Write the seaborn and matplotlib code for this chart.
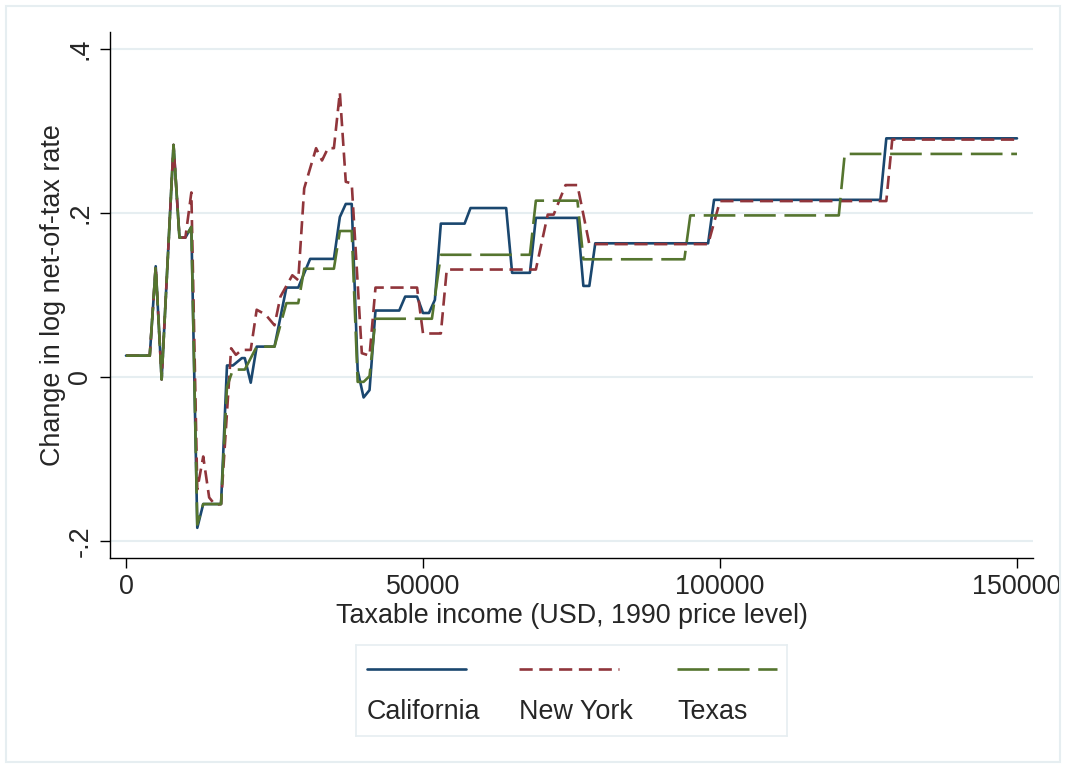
import pandas as pd
import matplotlib.pyplot as plt
import seaborn as sns
from matplotlib.lines import Line2D
from matplotlib.patches import Rectangle

# Data (taxable income in USD, change in log net-of-tax rate)
ca_income = [0, 4000, 5000, 6000, 8000, 9000, 10000, 11000, 12000, 13000, 16000,
             17000, 18000, 19500, 20000, 21000, 22000, 25000, 27000, 29000, 31000,
             35000, 36000, 37000, 38000, 39000, 40000, 41000, 42000, 46000, 47000,
             49000, 50000, 51000, 52000, 53000, 57000, 58000, 64000, 65000, 68000,
             69000, 76000, 77000, 78000, 79000, 98000, 99000, 127000, 128000, 150000]
ca_change = [0.026, 0.026, 0.135, -0.003, 0.283, 0.170, 0.170, 0.183, -0.184, -0.155, -0.155,
             0.014, 0.014, 0.023, 0.023, -0.007, 0.037, 0.037, 0.109, 0.109, 0.144,
             0.144, 0.195, 0.211, 0.211, 0.008, -0.025, -0.016, 0.081, 0.081, 0.098,
             0.098, 0.078, 0.078, 0.094, 0.187, 0.187, 0.206, 0.206, 0.127, 0.127,
             0.194, 0.194, 0.111, 0.111, 0.163, 0.163, 0.216, 0.216, 0.291, 0.291]

ny_income = [0, 4000, 5000, 6000, 8000, 9000, 10000, 11000, 12000, 13000, 14000,
             15000, 16000, 17700, 18500, 19500, 21000, 22000, 23500, 25000, 26000,
             28000, 29000, 30000, 32000, 33000, 34000, 35000, 36000, 37000, 38000,
             39700, 41000, 42000, 49000, 50000, 53000, 54000, 69000, 71000, 72000,
             74000, 76000, 78000, 98000, 100000, 128000, 129000, 150000]
ny_change = [0.026, 0.026, 0.135, -0.003, 0.283, 0.170, 0.170, 0.225, -0.137, -0.097, -0.147,
             -0.156, -0.155, 0.035, 0.027, 0.033, 0.033, 0.082, 0.076, 0.063, 0.098,
             0.124, 0.118, 0.230, 0.279, 0.264, 0.279, 0.279, 0.347, 0.238, 0.236,
             0.029, 0.026, 0.109, 0.109, 0.053, 0.053, 0.131, 0.131, 0.198, 0.198,
             0.234, 0.234, 0.162, 0.162, 0.2145, 0.2145, 0.2895, 0.2895]

tx_income = [0, 4000, 5000, 6000, 8000, 9000, 10000, 11000, 12000, 13000, 16000,
             17000, 18000, 20000, 22000, 25000, 27000, 29000, 30000, 35000, 36000,
             38000, 39000, 40000, 41000, 42000, 51500, 53000, 68000, 69000, 76000,
             77000, 94000, 95000, 120000, 121000, 150000]
tx_change = [0.026, 0.026, 0.135, -0.003, 0.283, 0.170, 0.170, 0.183, -0.180, -0.155, -0.155,
             -0.012, 0.009, 0.009, 0.037, 0.037, 0.090, 0.090, 0.132, 0.132, 0.178,
             0.178, -0.006, -0.006, 0.001, 0.071, 0.071, 0.149, 0.149, 0.215, 0.215,
             0.1435, 0.1435, 0.197, 0.197, 0.272, 0.272]

states = ["California", "New York", "Texas"]
colors = {"California": "#1a476f", "New York": "#90353b", "Texas": "#55752f"}
dash_styles = {"California": "", "New York": (5, 2.5), "Texas": (12, 3.3)}

y_ticks = [-0.2, 0, 0.2, 0.4]
y_tick_labels = ["-.2", "0", ".2", ".4"]
x_ticks = [0, 50000, 100000, 150000]
x_tick_labels = ["0", "50000", "100000", "150000"]

df = pd.concat([
    pd.DataFrame({"income": ca_income, "change": ca_change, "state": "California"}),
    pd.DataFrame({"income": ny_income, "change": ny_change, "state": "New York"}),
    pd.DataFrame({"income": tx_income, "change": tx_change, "state": "Texas"}),
])

sns.set_theme(style="white")
plt.rcParams["font.family"] = ["Liberation Sans", "DejaVu Sans"]
fs = 19.4
lw = 1.9

fig = plt.figure(figsize=(10.68, 7.69), dpi=100)
fig.patches.append(Rectangle((6 / 1068, 7 / 769), 1054 / 1068, 756 / 769,
                             transform=fig.transFigure, fill=False,
                             edgecolor="#e6eef1", linewidth=1.5))
ax = fig.add_axes([0.1030, 0.2748, 0.8642, 0.6836])

sns.lineplot(data=df, x="income", y="change", hue="state", style="state",
             hue_order=states, style_order=states, palette=colors,
             dashes=dash_styles, estimator=None, sort=False, linewidth=lw,
             legend=False, ax=ax)

ax.set_xlim(-2694, 152690)
ax.set_ylim(-0.2204, 0.4207)
ax.set_yticks(y_ticks)
ax.set_yticklabels(y_tick_labels, rotation=90, va="center", fontsize=fs)
ax.set_xticks(x_ticks)
ax.set_xticklabels(x_tick_labels, fontsize=fs)
ax.grid(axis="y", color="#e6eef1", linewidth=1.5)
ax.grid(axis="x", visible=False)
ax.set_axisbelow(True)
for side in ["top", "right"]:
    ax.spines[side].set_visible(False)
for side in ["left", "bottom"]:
    ax.spines[side].set_color("black")
    ax.spines[side].set_linewidth(1.0)
ax.tick_params(axis="both", which="major", direction="out", length=7, width=1.0,
               color="black", left=True, bottom=True, pad=5)
ax.set_xlabel("Taxable income (USD, 1990 price level)", fontsize=fs, labelpad=2)
ax.set_ylabel("Change in log net-of-tax rate", fontsize=fs, labelpad=1)

# Legend: sample line above each label, like the original
lax = fig.add_axes([0.3331, 0.0429, 0.4036, 0.1183])
lax.set_xlim(0, 1)
lax.set_ylim(0, 1)
lax.set_xticks([])
lax.set_yticks([])
for sp in lax.spines.values():
    sp.set_color("#e6eef1")
    sp.set_linewidth(1.2)
starts = [0.0255, 0.379, 0.7455]
for st, x0 in zip(states, starts):
    ln = Line2D([x0, x0 + 0.231], [0.736, 0.736], color=colors[st], linewidth=lw)
    if dash_styles[st]:
        ln.set_dashes(dash_styles[st])
    lax.add_line(ln)
    lax.text(x0, 0.264, st, fontsize=fs, va="center", ha="left")

fig.savefig("out.png", dpi=100)
